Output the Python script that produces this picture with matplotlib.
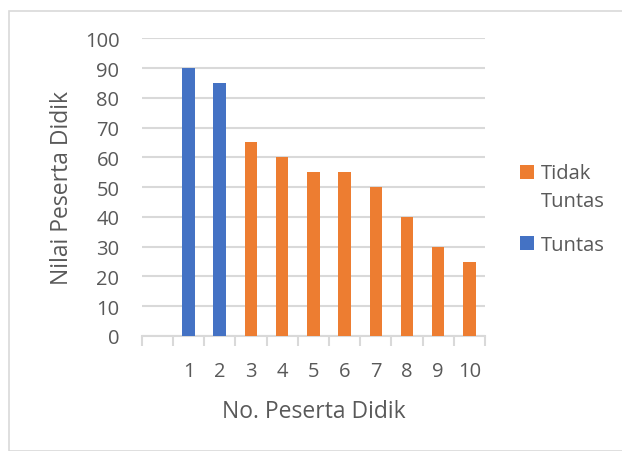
import matplotlib
matplotlib.use("Agg")
import matplotlib.pyplot as plt
from matplotlib.patches import Rectangle

plt.rcParams['font.family'] = ['Open Sans', 'DejaVu Sans']

categories = ["", "1", "2", "3", "4", "5", "6", "7", "8", "9", "10"]
tuntas = [0, 90, 85, 0, 0, 0, 0, 0, 0, 0, 0]
tidak_tuntas = [0, 0, 0, 65, 60, 55, 55, 50, 40, 30, 25]
y_ticks = [0, 10, 20, 30, 40, 50, 60, 70, 80, 90, 100]
legend_labels = ["Tidak\nTuntas", "Tuntas"]

BLUE = "#4472C4"
ORANGE = "#ED7D31"
GRID = "#D9D9D9"
TEXT = "#595959"

W, H = 622, 452
fig = plt.figure(figsize=(W / 100, H / 100), dpi=100)
ax = fig.add_axes([141.7 / W, 1 - 337 / H, (485 - 141.7) / W, (337 - 39.3) / H])

x = list(range(len(categories)))
ax.bar(x, tuntas, width=0.4, color=BLUE, zorder=3)
ax.bar(x, tidak_tuntas, width=0.4, bottom=tuntas, color=ORANGE, zorder=3)

ax.set_xlim(-0.5, len(categories) - 0.5)
ax.set_ylim(0, 100)
ax.set_yticks(y_ticks)
ax.set_yticklabels([str(v) for v in y_ticks])
ax.yaxis.grid(True, color=GRID, linewidth=1.5, zorder=0)
ax.tick_params(axis='y', length=0, pad=16, labelsize=14.5, labelcolor=TEXT)

ax.set_xticks(x)
ax.set_xticklabels(categories)
ax.tick_params(axis='x', length=0, pad=18, labelsize=14.5, labelcolor=TEXT)
# category boundary tick marks below the baseline
ax.set_xticks([i - 0.5 for i in range(len(categories) + 1)], minor=True)
ax.tick_params(axis='x', which='minor', length=7, width=1.5, color=GRID)

for side in ['top', 'right', 'left']:
    ax.spines[side].set_visible(False)
ax.spines['bottom'].set_color(GRID)
ax.spines['bottom'].set_linewidth(1.5)

ax.set_xlabel("No. Peserta Didik", fontsize=16.5, color=TEXT, labelpad=13)
ax.set_ylabel("Nilai Peserta Didik", fontsize=16.5, color=TEXT, labelpad=8)

# legend: square swatch aligned with the first line of each entry,
# text placed by the baseline of its last line
def px(xp, yp):
    return xp / W, 1 - yp / H

for color, label, swatch_top, last_baseline in [(ORANGE, legend_labels[0], 166, 207),
                                                (BLUE, legend_labels[1], 237, 250.7)]:
    sx, sy = px(520, swatch_top + 13.5)
    fig.add_artist(Rectangle((sx, sy), 14 / W, 13.5 / H, transform=fig.transFigure,
                             facecolor=color, edgecolor='none'))
    tx, ty = px(541, last_baseline)
    fig.text(tx, ty, label, fontsize=14.5, color=TEXT, ha='left', va='baseline',
             linespacing=1.5)

fig.patches.append(Rectangle((8.5 / W, 0), 1, 1 - 11.5 / H, transform=fig.transFigure,
                             fill=False, edgecolor=GRID, linewidth=1.2))

fig.savefig("out.png", dpi=100)
